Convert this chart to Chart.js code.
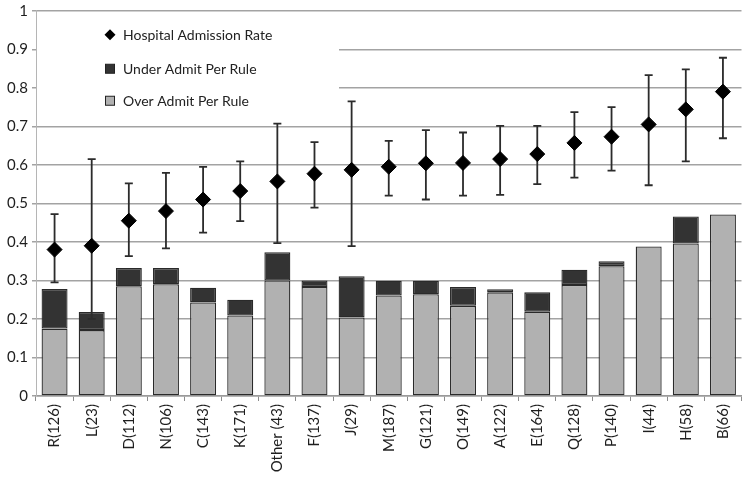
<!DOCTYPE html>
<html>
<head>
<meta charset="utf-8">
<script src="https://cdn.jsdelivr.net/npm/chart.js@4/dist/chart.umd.min.js"></script>
<style>
  html, body { margin: 0; padding: 0; background: #fff; }
  #caja { width: 750px; height: 481px; }
</style>
</head>
<body>
<div id="caja"><canvas id="canvas"></canvas></div>
<script>
// categorias (regla y cantidad de pacientes)
const categorias = ["R(126)", "L(23)", "D(112)", "N(106)", "C(143)", "K(171)", "Other (43)", "F(137)", "J(29)",
  "M(187)", "G(121)", "O(149)", "A(122)", "E(164)", "Q(128)", "P(140)", "I(44)", "H(58)", "B(66)"];

// tasa de admision y su intervalo
const tasaAdmision = [0.38, 0.39, 0.455, 0.48, 0.51, 0.532, 0.557, 0.577, 0.587,
  0.595, 0.604, 0.605, 0.615, 0.628, 0.657, 0.673, 0.705, 0.744, 0.79];
const tasaMin = [0.295, 0.2, 0.363, 0.383, 0.424, 0.454, 0.397, 0.489, 0.389,
  0.52, 0.51, 0.52, 0.522, 0.55, 0.567, 0.585, 0.547, 0.609, 0.669];
const tasaMax = [0.472, 0.615, 0.552, 0.579, 0.595, 0.609, 0.707, 0.659, 0.765,
  0.662, 0.69, 0.684, 0.701, 0.701, 0.737, 0.75, 0.833, 0.848, 0.878];

// barras apiladas
const sobreAdmision = [0.175, 0.171, 0.285, 0.29, 0.243, 0.209, 0.30, 0.283, 0.204,
  0.261, 0.264, 0.234, 0.269, 0.219, 0.288, 0.337, 0.388, 0.396, 0.471];
const subAdmision = [0.103, 0.047, 0.047, 0.042, 0.038, 0.041, 0.073, 0.017, 0.107,
  0.038, 0.035, 0.049, 0.008, 0.05, 0.04, 0.013, 0, 0.07, 0];

const ticksY = [0, 0.1, 0.2, 0.3, 0.4, 0.5, 0.6, 0.7, 0.8, 0.9, 1];

const fuente = "Lato, 'Open Sans', sans-serif";
const grisClaro = "#b1b1b1";
const grisOscuro = "#333333";

// barras de error, se dibujan antes de los rombos
const barrasError = {
  id: "barrasError",
  beforeDatasetDraw(chart, args) {
    if (args.index !== 2) return;
    const ctx = chart.ctx;
    const y = chart.scales.y;
    const meta = chart.getDatasetMeta(2);
    ctx.save();
    ctx.strokeStyle = "#2b2b2b";
    ctx.lineWidth = 1.8;
    meta.data.forEach((p, i) => {
      const top = y.getPixelForValue(tasaMax[i]);
      const bot = y.getPixelForValue(tasaMin[i]);
      ctx.beginPath();
      ctx.moveTo(p.x, top); ctx.lineTo(p.x, bot);
      ctx.moveTo(p.x - 4, top); ctx.lineTo(p.x + 4, top);
      ctx.moveTo(p.x - 4, bot); ctx.lineTo(p.x + 4, bot);
      ctx.stroke();
    });
    ctx.restore();
  }
};

// leyenda dentro del area del grafico, con fondo blanco
const leyenda = {
  id: "leyenda",
  beforeDatasetsDraw(chart) {
    const a = chart.chartArea;
    const ctx = chart.ctx;
    ctx.save();
    ctx.fillStyle = "#fff";
    ctx.fillRect(a.left + 1, a.top + 4, 302, 98);
    const x = a.left + 74;
    const filas = [a.top + 24, a.top + 58, a.top + 90];
    // rombo
    ctx.fillStyle = "#000";
    ctx.beginPath();
    ctx.moveTo(x, filas[0] - 5.5); ctx.lineTo(x + 5.5, filas[0]);
    ctx.lineTo(x, filas[0] + 5.5); ctx.lineTo(x - 5.5, filas[0]);
    ctx.closePath(); ctx.fill();
    // cuadrados
    ctx.strokeStyle = "#222"; ctx.lineWidth = 1;
    ctx.fillStyle = grisOscuro;
    ctx.fillRect(x - 4.5, filas[1] - 4.5, 9, 9); ctx.strokeRect(x - 4.5, filas[1] - 4.5, 9, 9);
    ctx.fillStyle = grisClaro;
    ctx.fillRect(x - 4.5, filas[2] - 4.5, 9, 9); ctx.strokeRect(x - 4.5, filas[2] - 4.5, 9, 9);
    ctx.fillStyle = "#222";
    ctx.font = "14px " + fuente;
    ctx.textBaseline = "middle";
    const textos = ["Hospital Admission Rate", "Under Admit Per Rule", "Over Admit Per Rule"];
    textos.forEach((t, i) => ctx.fillText(t, x + 13, filas[i] + 1));
    ctx.restore();
  }
};

const miCanvas = document.getElementById("canvas");
const ctx = miCanvas.getContext("2d");

const grafico = new Chart(ctx, {
  type: "bar",
  data: {
    labels: categorias,
    datasets: [
      {
        label: "Over Admit Per Rule",
        data: sobreAdmision,
        backgroundColor: grisClaro,
        borderColor: "#2a2a2a",
        borderWidth: 1.3,
        borderSkipped: false,
        barPercentage: 0.7,
        categoryPercentage: 1,
        stack: "reglas",
        order: 1
      },
      {
        label: "Under Admit Per Rule",
        data: subAdmision,
        backgroundColor: grisOscuro,
        borderColor: "#2a2a2a",
        borderWidth: 1.3,
        borderSkipped: false,
        barPercentage: 0.7,
        categoryPercentage: 1,
        stack: "reglas",
        order: 1
      },
      {
        type: "line",
        label: "Hospital Admission Rate",
        data: tasaAdmision,
        showLine: false,
        pointStyle: "rectRot",
        pointRadius: 7.5,
        pointBackgroundColor: "#000",
        pointBorderColor: "#000",
        stack: "tasa",
        order: 0
      }
    ]
  },
  options: {
    responsive: true,
    maintainAspectRatio: false,
    animation: false,
    layout: { padding: { top: 0, right: 7, left: 0, bottom: 0 } },
    plugins: {
      legend: { display: false },
      tooltip: { enabled: false }
    },
    scales: {
      x: {
        stacked: true,
        grid: { drawOnChartArea: false, drawTicks: true, tickLength: 5, color: "#8c8c8c", offset: true },
        border: { display: true, color: "#9a9a9a", width: 1.5 },
        ticks: {
          minRotation: 90, maxRotation: 90, autoSkip: false,
          color: "#1e1e1e", padding: 3,
          font: { family: fuente, size: 15 }
        },
        afterFit: s => { s.height = 85; }
      },
      y: {
        stacked: true,
        min: 0, max: 1,
        afterBuildTicks: s => { s.ticks = ticksY.map(v => ({ value: v })); },
        grid: { color: "#a3a3a3", lineWidth: 1.5, tickLength: 4 },
        border: { display: true, color: "#b5b5b5", width: 1 },
        ticks: {
          color: "#1e1e1e", padding: 4,
          font: { family: fuente, size: 15, lineHeight: 0.9 },
          callback: v => String(Math.round(v * 10) / 10)
        },
        afterFit: s => { s.width = 36; }
      }
    }
  },
  plugins: [leyenda, barrasError]
});
</script>
</body>
</html>
